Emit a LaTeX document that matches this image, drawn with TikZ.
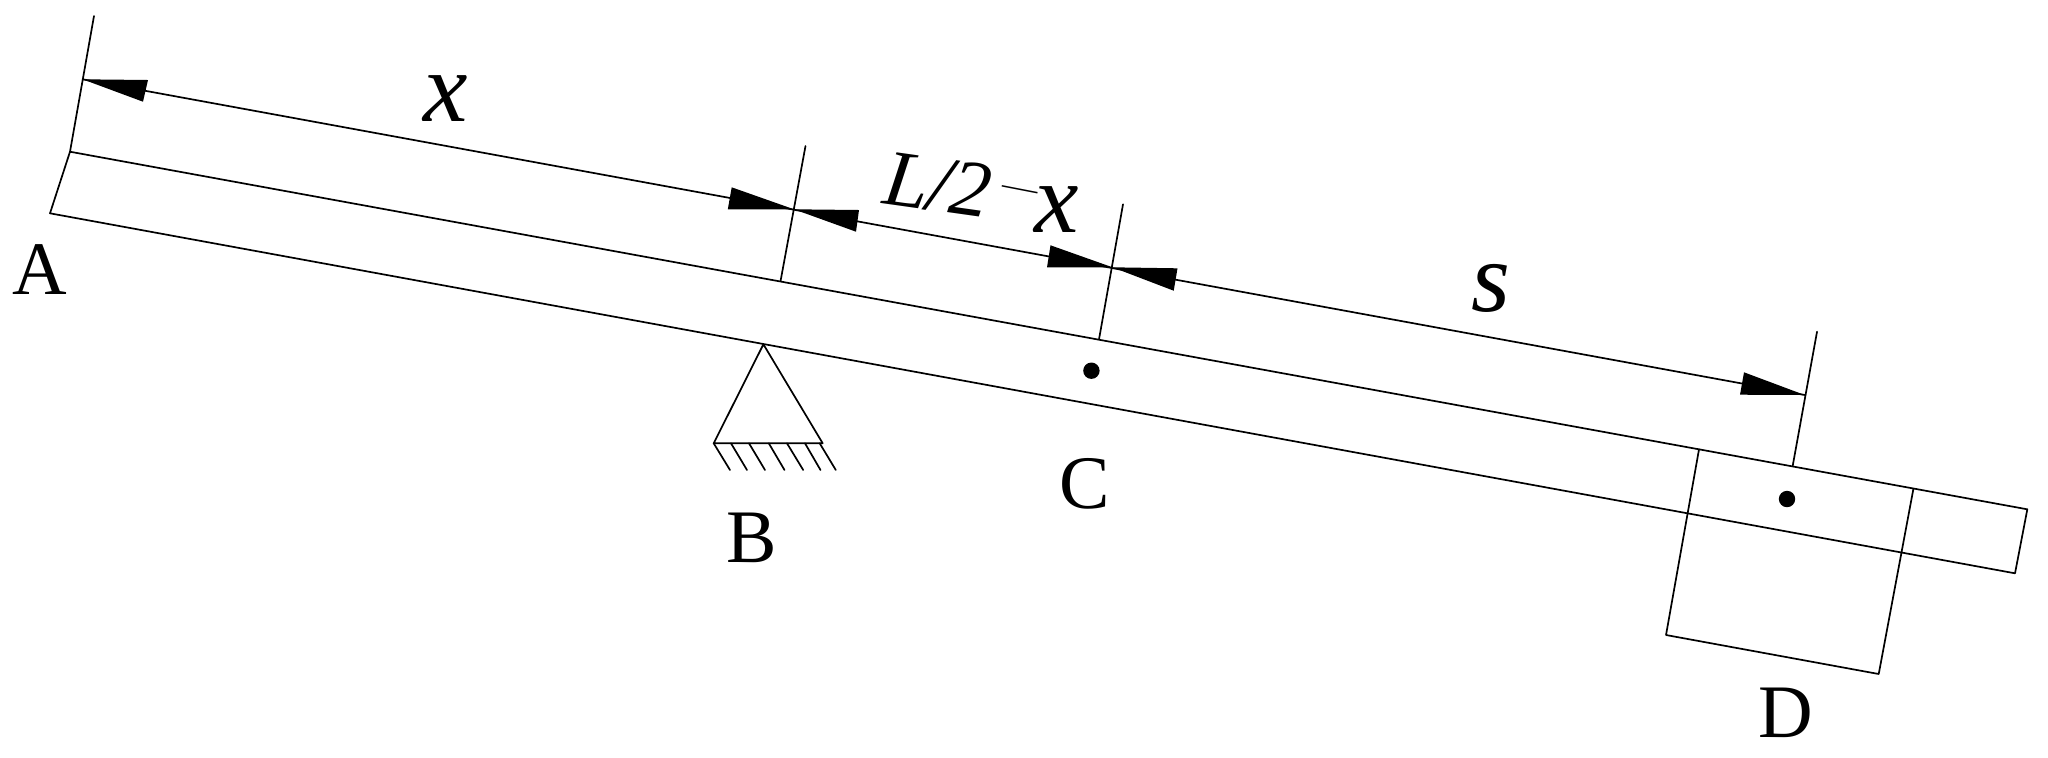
\documentclass[tikz,border=0pt]{standalone}
\usepackage{fontspec}
\usepackage{graphicx}
\setmainfont{Liberation Serif}
\tikzset{
  px/.style={x=0.5pt,y=-0.5pt},
  ln/.style={line width=0.85pt,line cap=round,line join=round,black},
  head/.style={fill=black,draw=none},
  caplabel/.style={inner sep=0pt,font=\fontsize{37.8}{40}\selectfont},
  dimlabel/.style={inner sep=0pt,rotate=-8,font=\fontsize{40}{42}\selectfont\itshape},
  varlabel/.style={inner sep=0pt,font=\fontsize{50}{52}\selectfont\itshape},
  dotmark/.style={circle,fill=black,inner sep=0pt,minimum size=8.2pt}
}
\begin{document}
\begin{tikzpicture}[px]
\useasboundingbox (0,0) rectangle (2048,757);
% bar
\coordinate (tl) at (70,151.7);
\coordinate (bl) at (50,213.3);
\coordinate (tr) at (2027.3,509.3);
\coordinate (br) at (2015,573.3);
\draw[ln] (tl) -- (tr) -- (br) -- (bl) -- cycle;
% extension lines
\coordinate (ea) at (94,16);
\coordinate (ta) at (82.6,79.3);
\draw[ln] (ea) -- (tl);
\coordinate (eb1) at (805.5,146);
\coordinate (tb) at (794,209.3);
\coordinate (eb2) at (780.6,280.7);
\draw[ln] (eb1) -- (eb2);
\coordinate (ec1) at (1123,204.3);
\coordinate (tc) at (1112.5,267.3);
\coordinate (ec2) at (1099,339.3);
\draw[ln] (ec1) -- (ec2);
\coordinate (ed1) at (1817,331.7);
\coordinate (td) at (1804.7,395);
\coordinate (ed2) at (1792.7,465.7);
\draw[ln] (ed1) -- (ed2);
% dimension line
\draw[ln] (ta) -- (td);
% arrow heads
\fill[head] (ta) -- (148,80) -- (143,101.7) -- cycle;
\fill[head] (tb) -- (731.7,187.3) -- (727.8,209.3) -- cycle;
\fill[head] (tb) -- (859,210) -- (856,231.7) -- cycle;
\fill[head] (tc) -- (1050.5,245.3) -- (1047,267.3) -- cycle;
\fill[head] (tc) -- (1177.5,268.3) -- (1173.7,290.7) -- cycle;
\fill[head] (td) -- (1744,372.3) -- (1740,394.7) -- cycle;
% support
\coordinate (sa) at (763.4,344.3);
\coordinate (sl) at (713.7,443.3);
\coordinate (sr) at (822.7,443.3);
\draw[ln] (sa) -- (sl) -- (sr) -- cycle;
\foreach \a/\b in {713.7/730,731/747,749/765,768.8/784.5,787/803.2,805/820.5,819.7/835.8}
  \draw[ln] (\a,443.3) -- (\b,470);
% block D
\coordinate (da) at (1699,449.3);
\coordinate (db) at (1666,635);
\coordinate (dc) at (1878.7,674);
\coordinate (dd) at (1913.3,489.3);
\draw[ln] (da) -- (db) -- (dc) -- (dd);
% dots
\node[dotmark] (dotc) at (1091.4,370.7) {};
\node[dotmark] (dotd) at (1787,499) {};
% labels
\node[caplabel] (A) at (40,270) {A};
\node[caplabel] (B) at (752,538) {B};
\node[caplabel] (C) at (1084.5,483.5) {C};
\node[caplabel] (D) at (1786,713) {D};
\node[varlabel] (x1) at (445.5,99) {x};
\node[dimlabel] (L2) at (938,185) {L/2};
\node[inner sep=0pt,rotate=-11,font=\fontsize{34}{36}\selectfont] (minus) at (1019,194.5) {\scalebox{1.15}[0.45]{−}};
\node[varlabel] (x2) at (1057,210) {x};
\node[varlabel] (s) at (1490.5,288) {s};
\end{tikzpicture}
\end{document}
